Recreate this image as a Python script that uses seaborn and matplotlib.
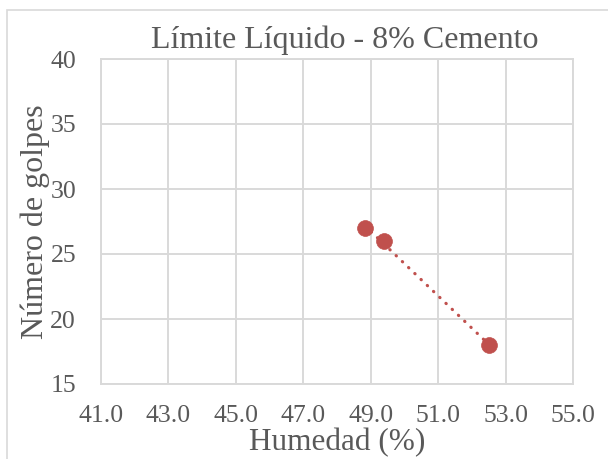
import matplotlib
matplotlib.use("Agg")
import matplotlib.pyplot as plt
from matplotlib.patches import Rectangle
import seaborn as sns
import pandas as pd

# Ensayo de límite líquido: humedad vs número de golpes
humedad = [48.83, 49.38, 52.51]
golpes = [27, 26, 18]
x_ticks = [41.0, 43.0, 45.0, 47.0, 49.0, 51.0, 53.0, 55.0]
y_ticks = [15, 20, 25, 30, 35, 40]

titulo = "Límite Líquido - 8% Cemento"
etiqueta_x = "Humedad (%)"
etiqueta_y = "Número de golpes"

sns.set_theme(style="white")
plt.rcParams["font.family"] = ["Liberation Serif", "DejaVu Serif"]

texto = "#595959"
rejilla = "#d9d9d9"
rojo = "#c0504d"

df = pd.DataFrame({"humedad": humedad, "golpes": golpes})

W, H = 608, 459
fig = plt.figure(figsize=(W / 100, H / 100), dpi=100)
fig.patch.set_facecolor("white")

left, right, top, bottom = 101, 573, 59, 384
ax = fig.add_axes([left / W, 1 - bottom / H, (right - left) / W, (bottom - top) / H])

# Línea de tendencia lineal de puntos redondos
sns.regplot(data=df, x="humedad", y="golpes", ax=ax, ci=None, scatter=False,
            line_kws=dict(color=rojo, lw=2.3, ls=(0, (0.1, 2.6)),
                          dash_capstyle="round", zorder=3))
# Puntos del ensayo
sns.scatterplot(data=df, x="humedad", y="golpes", ax=ax, s=130, color=rojo,
                edgecolor=rojo, linewidth=0.5, zorder=4)

ax.set_xlim(x_ticks[0], x_ticks[-1])
ax.set_ylim(y_ticks[0], y_ticks[-1])
ax.set_xticks(x_ticks)
ax.set_xticklabels([f"{v:.1f}" for v in x_ticks])
ax.set_yticks(y_ticks)
ax.set_yticklabels([str(v) for v in y_ticks])

ax.grid(True, color=rejilla, lw=1.4)
ax.set_axisbelow(True)
for s in ax.spines.values():
    s.set_color(rejilla)
    s.set_linewidth(1.4)
ax.tick_params(axis="both", length=0, labelsize=18.5, labelcolor=texto)
ax.tick_params(axis="y", pad=18)
ax.tick_params(axis="x", pad=15)

ax.set_xlabel(etiqueta_x, fontsize=22.5, color=texto)
ax.set_ylabel(etiqueta_y, fontsize=23, color=texto)
ax.xaxis.set_label_coords((337 - left) / (right - left), (bottom - 428) / (bottom - top))
ax.yaxis.set_label_coords((50 - left) / (right - left), (bottom - 222) / (bottom - top))

fig.text(345 / W, 1 - 40 / H, titulo, ha="center", va="center", fontsize=23, color=texto)

# Marco exterior del gráfico
fig.patches.append(Rectangle((7 / W, -0.1), 1.2, 1 - 10 / H + 0.1,
                             transform=fig.transFigure, fill=False,
                             edgecolor=rejilla, lw=1.2))

fig.savefig("out.png", dpi=100)
